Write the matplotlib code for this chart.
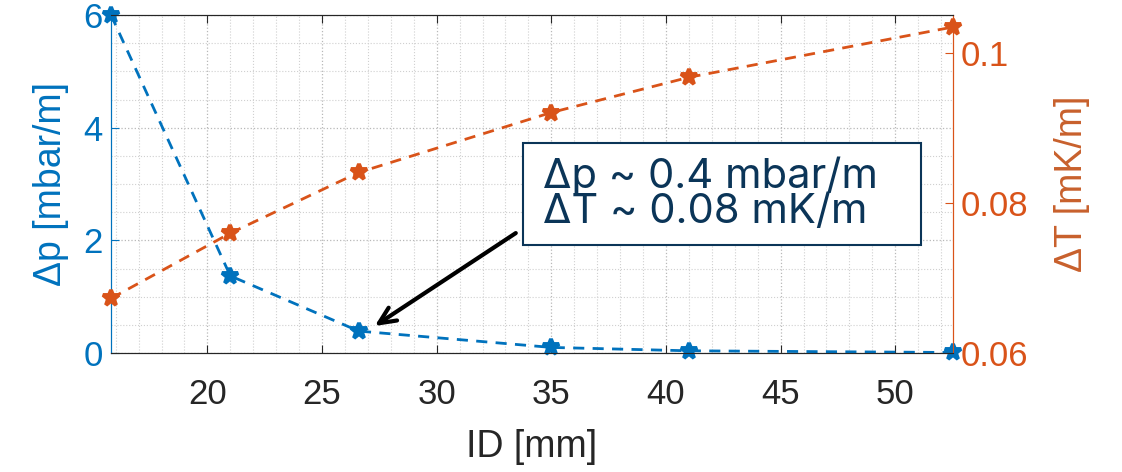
import numpy as np
import matplotlib.pyplot as plt
from matplotlib.ticker import MultipleLocator
from matplotlib.patches import Rectangle

# data
inner_diam = [15.8, 21.0, 26.6, 35.0, 41.0, 52.5]
dp_mbar = [6.0, 1.37, 0.39, 0.10, 0.04, 0.01]
dT_mK = [0.0673, 0.0760, 0.0841, 0.0921, 0.0968, 0.1035]

xticks = [20, 25, 30, 35, 40, 45, 50]
left_ticks = [0, 2, 4, 6]
right_ticks = [0.06, 0.08, 0.1]
right_ticklabels = ["0.06", "0.08", "0.1"]

note = "\u0394p ~ 0.4 mbar/m\n\u0394T ~ 0.08 mK/m"

BLUE = "#0072BD"
ORANGE = "#D95319"
NAVY = "#0B3558"
DARK = "#262626"

plt.rcParams['font.family'] = ['Liberation Sans', 'DejaVu Sans']

fig = plt.figure(figsize=(11.22, 4.72), dpi=100)
ax = fig.add_axes([0.099, 0.252, 0.75, 0.716])
ax2 = ax.twinx()

ax.plot(inner_diam, dp_mbar, ls=(0, (4, 3)), lw=2.0, color=BLUE,
        marker='*', ms=12, mew=2.8, clip_on=False, zorder=3)
ax2.plot(inner_diam, dT_mK, ls=(0, (4, 3)), lw=2.0, color=ORANGE,
         marker='*', ms=12, mew=2.8, clip_on=False, zorder=3)

ax.set_xlim(inner_diam[0], inner_diam[-1])
ax.set_ylim(0, 6)
ax2.set_ylim(0.06, 0.1051)

ax.set_xticks(xticks)
ax.set_yticks(left_ticks)
ax2.set_yticks(right_ticks)
ax2.set_yticklabels(right_ticklabels)
ax.xaxis.set_minor_locator(MultipleLocator(1))
ax.yaxis.set_minor_locator(MultipleLocator(0.5))

ax.grid(True, which='major', ls=':', color='#b8b8b8', lw=0.9)
ax.grid(True, which='minor', ls=':', color='#d0d0d0', lw=0.8)
ax.set_axisbelow(True)

ax.tick_params(axis='x', which='major', direction='in', top=True, length=6,
               labelsize=25, colors=DARK, pad=18)
ax.tick_params(axis='y', which='major', direction='in', length=6,
               labelsize=25, colors=BLUE, pad=6)
ax.tick_params(which='minor', length=0)
ax2.tick_params(axis='y', direction='in', length=6, labelsize=25,
                colors=ORANGE, pad=6)

for a in (ax, ax2):
    a.spines['top'].set_color(DARK)
    a.spines['bottom'].set_color(DARK)
    a.spines['left'].set_color(BLUE)
    a.spines['right'].set_color(ORANGE)

ax.set_xlabel("ID [mm]", fontsize=27, color=DARK, labelpad=13)
ax.set_ylabel("\u0394p [mbar/m]", fontsize=27, color=BLUE, labelpad=10)
ax2.set_ylabel("\u0394T [mK/m]", fontsize=27, color="#C8602C", labelpad=18)

# annotation box (axes fraction), text and arrow
ax2.add_patch(Rectangle((0.489, 0.32), 0.474, 0.301, transform=ax.transAxes,
                        fc='white', ec=NAVY, lw=1.5, zorder=5, clip_on=False))
ax2.text(0.513, 0.47, note, transform=ax.transAxes, fontsize=30, color=NAVY,
         family=['Inter', 'DejaVu Sans'], linespacing=0.9,
         va='center', ha='left', zorder=6)
ax.annotate("", xy=(27.3, 0.48), xytext=(33.45, 2.13),
            arrowprops=dict(arrowstyle='->,head_length=1.2,head_width=0.55',
                            color='black', lw=3, shrinkA=0, shrinkB=0),
            zorder=5)

fig.savefig("out.png", dpi=100, facecolor='white')
